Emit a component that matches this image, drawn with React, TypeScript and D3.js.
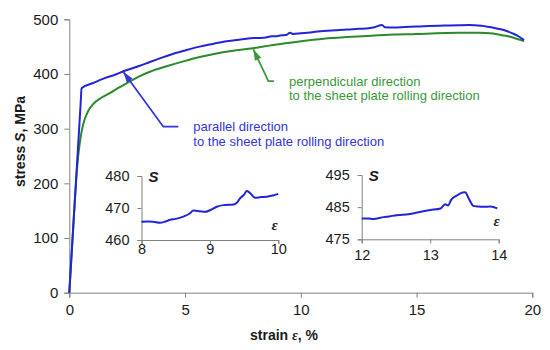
import React, { useRef, useEffect } from 'react';
import * as d3 from 'd3';

// stress-strain curves: [strain %, stress MPa]
const parallelCurve: [number, number][] = [
  [0, 0], [0.25, 176], [0.49, 346], [0.53, 374], [1.0, 383], [1.5, 392], [2.0, 399],
  [2.33, 405], [3.05, 415], [3.48, 422], [4.0, 430], [4.5, 437], [5.0, 443], [5.63, 450],
  [6.2, 455], [6.8, 460], [7.4, 463], [8.0, 465.7], [8.42, 466.3], [8.76, 469.2], [8.93, 468.8],
  [9.1, 470.4], [9.35, 471.1], [9.54, 475.3], [9.66, 473.2], [10.0, 474.4], [10.5, 476.5],
  [11.0, 478.5], [11.5, 480], [12.0, 481.5], [12.5, 482.5], [13.0, 484.1], [13.22, 485.9],
  [13.44, 489.3], [13.51, 489.6], [13.63, 485.4], [14.0, 484.8], [14.5, 485.8], [15.0, 486.8],
  [15.55, 487.8], [16.2, 488.5], [16.8, 489.2], [17.27, 489.6], [17.8, 488], [18.42, 483.5],
  [18.8, 480], [19.14, 474.4], [19.4, 469], [19.64, 462],
];

const perpendicularCurve: [number, number][] = [
  [0, 0], [0.2, 142], [0.3, 208], [0.38, 248], [0.48, 282], [0.6, 308], [0.8, 331],
  [1.03, 345], [1.4, 357], [1.75, 365], [2.1, 374], [2.47, 383], [3.05, 396], [3.48, 404],
  [4.2, 414], [5.0, 424], [5.63, 431], [6.3, 437], [7.0, 442], [7.93, 447], [8.8, 453],
  [9.94, 459.5], [11.0, 464.5], [12.0, 467.5], [12.82, 469.5], [14.0, 472], [15.0, 473],
  [15.84, 474.5], [16.8, 475.3], [17.7, 475.5], [18.3, 474], [18.7, 471], [19.0, 468.5],
  [19.28, 465], [19.64, 460],
];

const insetACurve: [number, number][] = [
  [8.0, 465.7], [8.1, 465.8], [8.17, 465.7], [8.27, 465.4], [8.35, 465.8], [8.42, 466.3],
  [8.5, 466.6], [8.61, 467.3], [8.7, 468.2], [8.76, 469.2], [8.85, 469.0], [8.93, 468.8],
  [9.0, 469.3], [9.1, 470.4], [9.2, 470.9], [9.35, 471.1], [9.4, 471.8], [9.44, 473],
  [9.5, 474.2], [9.54, 475.3], [9.58, 474.8], [9.66, 473.2], [9.75, 473.4], [9.83, 473.5],
  [9.92, 473.9], [10.0, 474.4],
];

const insetBCurve: [number, number][] = [
  [12.0, 481.5], [12.1, 481.5], [12.17, 481.3], [12.32, 481.9], [12.4, 482.1], [12.51, 482.5],
  [12.6, 482.6], [12.71, 482.9], [12.85, 483.5], [13.0, 484.1], [13.15, 484.6], [13.22, 485.9],
  [13.26, 485.5], [13.31, 487.4], [13.38, 488.5], [13.44, 489.3], [13.51, 489.6], [13.56, 487.8],
  [13.6, 486.2], [13.63, 485.4], [13.7, 485.2], [13.78, 485.1], [13.88, 485.2], [13.98, 484.6],
];

const mainStrainTicks = [0, 5, 10, 15, 20];
const mainStressTicks = [0, 100, 200, 300, 400, 500];
const insetAStrainTicks = [8, 9, 10];
const insetAStressTicks = [460, 470, 480];
const insetBStrainTicks = [12, 13, 14];
const insetBStressTicks = [475, 485, 495];

// annotation leaders: arrow tip, elbow, end (data coords)
const parallelLeader: [number, number][] = [[2.33, 404], [4.06, 303.6], [4.71, 303.6]];
const perpendicularLeader: [number, number][] = [[7.95, 445], [8.6, 387], [8.84, 387]];
const parallelText = ['parallel direction', 'to the sheet plate rolling direction'];
const perpendicularText = ['perpendicular direction', 'to the sheet plate rolling direction'];

const BLUE = '#2323d8';
const GREEN = '#2b8a2b';
const FONT = 'Arial, "Liberation Sans", sans-serif';

const App = () => {
  const ref = useRef<SVGSVGElement>(null);

  useEffect(() => {
    const svg = d3.select(ref.current);
    svg.selectAll('*').remove();

    const x = d3.scaleLinear().domain([0, 20]).range([69.3, 532.3]);
    const y = d3.scaleLinear().domain([0, 500]).range([292.7, 19.3]);

    const styleAxis = (g: any, size: number) => {
      g.select('.domain').attr('stroke', '#808080');
      g.selectAll('.tick line').attr('stroke', '#808080');
      g.selectAll('text')
        .attr('fill', '#1a1a1a')
        .attr('font-size', size)
        .attr('font-family', FONT);
    };

    // main axes
    svg.append('g')
      .attr('transform', `translate(0,${y(0)})`)
      .call(d3.axisBottom(x).tickValues(mainStrainTicks).tickSizeOuter(0).tickSize(5).tickPadding(7))
      .call((g) => styleAxis(g, 15));
    svg.append('g')
      .attr('transform', `translate(${x(0)},0)`)
      .call(d3.axisLeft(y).tickValues(mainStressTicks).tickSizeOuter(0).tickSize(5).tickPadding(6))
      .call((g) => styleAxis(g, 15));

    const line = (sx: any, sy: any) =>
      d3.line<[number, number]>().x((d) => sx(d[0])).y((d) => sy(d[1])).curve(d3.curveMonotoneX);

    svg.append('path').datum(perpendicularCurve)
      .attr('fill', 'none').attr('stroke', GREEN).attr('stroke-width', 2)
      .attr('d', line(x, y));
    svg.append('path').datum(parallelCurve)
      .attr('fill', 'none').attr('stroke', BLUE).attr('stroke-width', 2)
      .attr('d', line(x, y));

    // leader lines with arrow heads
    const leader = (pts: [number, number][], color: string, text: string[]) => {
      const p = pts.map((d) => [x(d[0]), y(d[1])]);
      svg.append('path')
        .attr('d', d3.line()(p as [number, number][]))
        .attr('fill', 'none').attr('stroke', color).attr('stroke-width', 1.8);
      const [tx, ty] = p[0];
      const dx = tx - p[1][0], dy = ty - p[1][1];
      const len = Math.hypot(dx, dy);
      const ux = dx / len, uy = dy / len;
      const bx = tx - ux * 11, by = ty - uy * 11;
      svg.append('polygon')
        .attr('points', [[tx, ty], [bx - uy * 3.5, by + ux * 3.5], [bx + uy * 3.5, by - ux * 3.5]].join(' '))
        .attr('fill', color);
      const [ex, ey] = p[2];
      const t = svg.append('text')
        .attr('font-family', FONT).attr('font-size', 13).attr('fill', color);
      text.forEach((s, i) =>
        t.append('tspan').attr('x', ex + 15).attr('y', ey + 4.5 + i * 14.5).text(s));
    };
    leader(parallelLeader, '#3434e0', parallelText);
    leader(perpendicularLeader, '#3a9a3a', perpendicularText);

    // insets
    const inset = (
      data: [number, number][], xd: number[], yd: number[], xr: number[], yr: number[],
      xt: number[], yt: number[], xPad: number, epsPos: number[]
    ) => {
      const sx = d3.scaleLinear().domain(xd).range(xr);
      const sy = d3.scaleLinear().domain(yd).range(yr);
      svg.append('g')
        .attr('transform', `translate(0,${yr[0]})`)
        .call(d3.axisBottom(sx).tickValues(xt).tickSizeOuter(0).tickSize(4).tickPadding(xPad).tickFormat(d3.format('d')))
        .call((g) => styleAxis(g, 14.5));
      svg.append('g')
        .attr('transform', `translate(${xr[0]},0)`)
        .call(d3.axisLeft(sy).tickValues(yt).tickSizeOuter(0).tickSize(4).tickPadding(8))
        .call((g) => styleAxis(g, 14.5));
      svg.append('path').datum(data)
        .attr('fill', 'none').attr('stroke', BLUE).attr('stroke-width', 2)
        .attr('d', line(sx, sy));
      svg.append('text')
        .attr('x', xr[0] + 7).attr('y', yr[1] + 6)
        .attr('font-family', FONT).attr('font-size', 15)
        .attr('font-weight', 'bold').attr('font-style', 'italic')
        .attr('fill', '#1a1a1a').text('S');
      svg.append('text')
        .attr('x', epsPos[0]).attr('y', epsPos[1])
        .attr('font-family', '"Liberation Serif", serif').attr('font-size', 15)
        .attr('font-weight', 'bold').attr('font-style', 'italic')
        .attr('fill', '#1a1a1a').attr('text-anchor', 'middle').text('ε');
    };
    inset(insetACurve, [8, 10], [460, 480], [141.5, 278.3], [240, 176],
      insetAStrainTicks, insetAStressTicks, 0, [274.5, 230]);
    inset(insetBCurve, [12, 14], [475, 495], [361.7, 498.7], [239.3, 175],
      insetBStrainTicks, insetBStressTicks, 6, [496.5, 226]);

    // axis titles
    const yt = svg.append('text')
      .attr('transform', 'translate(25,141.5) rotate(-90)')
      .attr('text-anchor', 'middle')
      .attr('font-family', FONT).attr('font-size', 14).attr('font-weight', 'bold')
      .attr('fill', '#1a1a1a');
    yt.append('tspan').text('stress ');
    yt.append('tspan').attr('font-style', 'italic').text('S');
    yt.append('tspan').text(', MPa');

    const xt = svg.append('text')
      .attr('x', 284).attr('y', 340)
      .attr('text-anchor', 'middle')
      .attr('font-family', FONT).attr('font-size', 14).attr('font-weight', 'bold')
      .attr('fill', '#1a1a1a');
    xt.append('tspan').text('strain ');
    xt.append('tspan').attr('font-style', 'italic').attr('font-family', '"Liberation Serif", serif').text('ε');
    xt.append('tspan').text(', %');
  }, []);

  return (
    <svg
      ref={ref}
      width={550}
      height={350}
      style={{ position: 'absolute', left: 0, top: 0, background: '#fff' }}
    />
  );
};

export default App;
